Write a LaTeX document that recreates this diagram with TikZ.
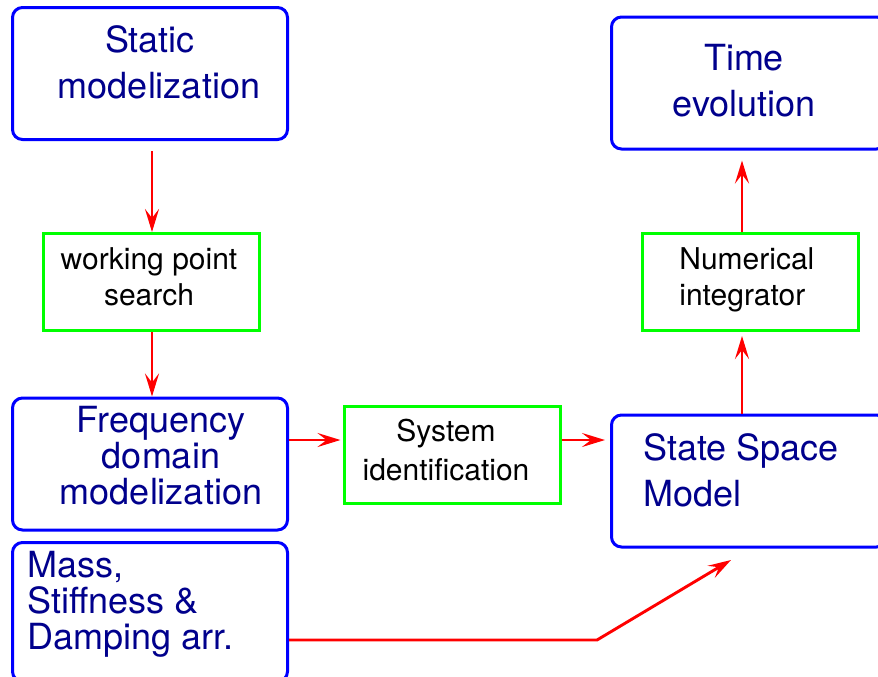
\documentclass[tikz,border=0pt]{standalone}
\usepackage{fontspec}
\setmainfont{TeX Gyre Heros}
\usepackage{xcolor}
\usetikzlibrary{arrows.meta}
\definecolor{navy}{RGB}{0,0,140}

\begin{document}
\begin{tikzpicture}[
x=0.5pt,
y=-0.5pt,
model/.style={rectangle,rounded corners=5pt,draw=blue,line width=1.5pt,minimum width=137.5pt,minimum height=66pt,inner sep=0pt},
tool/.style={rectangle,draw=green,line width=1.5pt,minimum width=108pt,minimum height=48.5pt,inner sep=0pt},
bigtxt/.style={inner sep=0pt,text=navy,font=\fontsize{18}{23}\selectfont},
tighttxt/.style={inner sep=0pt,text=navy,font=\fontsize{18}{18}\selectfont},
smalltxt/.style={inner sep=0pt,font=\fontsize{15}{18}\selectfont},
arr/.style={-{Stealth[length=11.5pt,width=7pt,inset=4.5pt]},draw=red,line width=1.45pt}
]
\useasboundingbox (0,0) rectangle (878,676);

% boxes
\node[model] (static) at (150,73.5) {};
\node[model] (time) at (749,83) {};
\node[tool] (wp) at (151.5,282) {};
\node[tool] (num) at (750.5,282) {};
\node[model] (freq) at (150,464) {};
\node[tool] (sys) at (452,455) {};
\node[model] (ssm) at (749,481) {};
\node[model,minimum height=69.5pt] (mass) at (150,612) {};

% texts
\node[bigtxt,anchor=north,align=center] (static-t) at (159,25) {Static\hspace*{9pt}\\modelization};
\node[bigtxt,anchor=north,align=center] (time-t) at (744,44) {Time\\evolution};
\node[smalltxt,anchor=north,align=center] (wp-t) at (149,247) {working point\\search};
\node[smalltxt,anchor=north west,align=left] (num-t) at (679,247) {Numerical\\integrator};
\node[tighttxt,anchor=north,align=center] (freq-t) at (161,406) {Frequency\\domain\\modelization};
\node[smalltxt,anchor=north,align=center,font=\fontsize{15}{19.5}\selectfont] (sys-t) at (446,419) {System\\identification};
\node[bigtxt,anchor=north west,align=left] (ssm-t) at (643,433) {State Space\\Model};
\node[tighttxt,anchor=north west,align=left] (mass-t) at (27,551) {Mass,\\Stiffness \&\\Damping arr.};

% guide points
\coordinate (lcol) at (152,0);
\coordinate (rcol) at (742,0);
\coordinate (row) at (0,440);
\coordinate (bend) at (597,640);
\coordinate (ssmin) at (731,560);

% connectors
\draw[arr,shorten <=5pt] (static.south -| lcol) -- (wp.north -| lcol);
\draw[arr] (wp.south -| lcol) -- (freq.north -| lcol);
\draw[arr,shorten >=1pt] (freq.east |- row) -- (sys.west |- row);
\draw[arr,shorten >=2.5pt] (sys.east |- row) -- (ssm.west |- row);
\draw[arr,shorten >=2pt] (ssm.north -| rcol) -- (num.south -| rcol);
\draw[arr,shorten >=5pt] (num.north -| rcol) -- (time.south -| rcol);
\draw[arr] (mass.east |- bend) -- (bend) -- (ssmin);
\end{tikzpicture}
\end{document}
